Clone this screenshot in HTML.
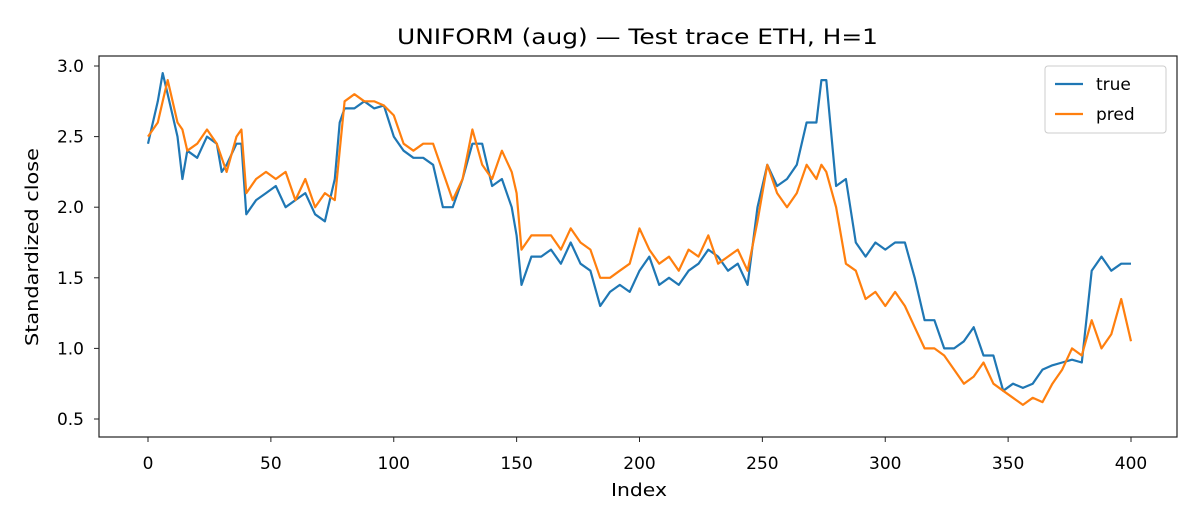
<!DOCTYPE html>
<html><head><meta charset="utf-8"><style>
body{margin:0;background:#fff;font-family:"Liberation Sans","DejaVu Sans",sans-serif}
svg text{font-family:"DejaVu Sans","Liberation Sans",sans-serif;fill:#000}
</style></head><body>
<svg id="chart" width="1200" height="525" viewBox="0 0 1200 525" xmlns="http://www.w3.org/2000/svg">
<rect width="1200" height="525" fill="#fff"/>
<text x="397" y="44" font-size="21" textLength="481" lengthAdjust="spacingAndGlyphs">UNIFORM (aug) — Test trace ETH, H=1</text>
<g id="ticks"></g>
<g id="series"></g>
<rect x="99" y="56" width="1078" height="381" fill="none" stroke="#222" stroke-width="1.2"/>
<text x="611" y="496" font-size="17.5" textLength="56" lengthAdjust="spacingAndGlyphs">Index</text>
<text transform="translate(38,346) rotate(-90)" font-size="17.5" textLength="198" lengthAdjust="spacingAndGlyphs">Standardized close</text>
<g>
<rect x="1045" y="66" width="121" height="67" rx="3" fill="#fff" stroke="#ccc"/>
<line x1="1055" y1="84" x2="1083" y2="84" stroke="#1f77b4" stroke-width="2.2"/>
<text x="1096" y="90" font-size="17">true</text>
<line x1="1055" y1="114" x2="1083" y2="114" stroke="#ff7f0e" stroke-width="2.2"/>
<text x="1096" y="120" font-size="17">pred</text>
</g>
</svg>
<script>
const idx=[0,4,6,8,12,14,16,20,24,28,30,32,36,38,40,44,48,52,56,60,64,68,72,76,78,80,84,88,92,96,100,104,108,112,116,120,124,128,132,136,140,144,148,150,152,156,160,164,168,172,176,180,184,188,192,196,200,204,208,212,216,220,224,228,232,236,240,244,248,252,256,260,264,268,272,274,276,280,284,288,292,296,300,304,308,312,316,320,324,328,332,336,340,344,348,352,356,360,364,368,372,376,380,384,388,392,396,400];
const trueVals=[2.45,2.75,2.95,2.8,2.5,2.2,2.4,2.35,2.5,2.45,2.25,2.3,2.45,2.45,1.95,2.05,2.1,2.15,2.0,2.05,2.1,1.95,1.9,2.2,2.6,2.7,2.7,2.75,2.7,2.72,2.5,2.4,2.35,2.35,2.3,2.0,2.0,2.2,2.45,2.45,2.15,2.2,2.0,1.8,1.45,1.65,1.65,1.7,1.6,1.75,1.6,1.55,1.3,1.4,1.45,1.4,1.55,1.65,1.45,1.5,1.45,1.55,1.6,1.7,1.65,1.55,1.6,1.45,2.0,2.3,2.15,2.2,2.3,2.6,2.6,2.9,2.9,2.15,2.2,1.75,1.65,1.75,1.7,1.75,1.75,1.5,1.2,1.2,1.0,1.0,1.05,1.15,0.95,0.95,0.7,0.75,0.72,0.75,0.85,0.88,0.9,0.92,0.9,1.55,1.65,1.55,1.6,1.6];
const predVals=[2.5,2.6,2.75,2.9,2.6,2.55,2.4,2.45,2.55,2.45,2.35,2.25,2.5,2.55,2.1,2.2,2.25,2.2,2.25,2.05,2.2,2.0,2.1,2.05,2.4,2.75,2.8,2.75,2.75,2.72,2.65,2.45,2.4,2.45,2.45,2.25,2.05,2.2,2.55,2.3,2.2,2.4,2.25,2.1,1.7,1.8,1.8,1.8,1.7,1.85,1.75,1.7,1.5,1.5,1.55,1.6,1.85,1.7,1.6,1.65,1.55,1.7,1.65,1.8,1.6,1.65,1.7,1.55,1.9,2.3,2.1,2.0,2.1,2.3,2.2,2.3,2.25,2.0,1.6,1.55,1.35,1.4,1.3,1.4,1.3,1.15,1.0,1.0,0.95,0.85,0.75,0.8,0.9,0.75,0.7,0.65,0.6,0.65,0.62,0.75,0.85,1.0,0.95,1.2,1.0,1.1,1.35,1.05];
const xTicks=[0,50,100,150,200,250,300,350,400];
const yTicks=[0.5,1.0,1.5,2.0,2.5,3.0];
const NS="http://www.w3.org/2000/svg";
const xs=i=>148+i*(1131-148)/400;
const ys=v=>66+(3.0-v)*(419-66)/2.5;
const tg=document.getElementById('ticks');
xTicks.forEach(t=>{
 const l=document.createElementNS(NS,'line');
 
 
 l.setAttribute('x1',xs(t));l.setAttribute('x2',xs(t));l.setAttribute('y1',437);l.setAttribute('y2',442);l.setAttribute('stroke','#222');
 tg.appendChild(l);
 const tx=document.createElementNS(NS,'text');
 
 
 tx.setAttribute('x',xs(t));tx.setAttribute('y',469);tx.setAttribute('font-size','17');tx.setAttribute('text-anchor','middle');
 tx.textContent=t;tg.appendChild(tx);
});
yTicks.forEach(t=>{
 const l=document.createElementNS(NS,'line');
 
 
 l.setAttribute('x1',94);l.setAttribute('x2',99);l.setAttribute('y1',ys(t));l.setAttribute('y2',ys(t));l.setAttribute('stroke','#222');
 tg.appendChild(l);
 const tx=document.createElementNS(NS,'text');
 
 
 tx.setAttribute('x',84);tx.setAttribute('y',ys(t)+6);tx.setAttribute('font-size','17');tx.setAttribute('text-anchor','end');
 tx.textContent=t.toFixed(1);tg.appendChild(tx);
});
const sg=document.getElementById('series');
[[trueVals,'#1f77b4','true-line'],[predVals,'#ff7f0e','pred-line']].forEach(([vals,c,n])=>{
 const p=document.createElementNS(NS,'path');
 
 
 p.setAttribute('d',vals.map((v,k)=>(k?'L':'M')+xs(idx[k]).toFixed(1)+' '+ys(v).toFixed(1)).join(''));
 p.setAttribute('fill','none');p.setAttribute('stroke',c);p.setAttribute('stroke-width','2.2');p.setAttribute('stroke-linejoin','round');
 sg.appendChild(p);
});
</script>
</body></html>
